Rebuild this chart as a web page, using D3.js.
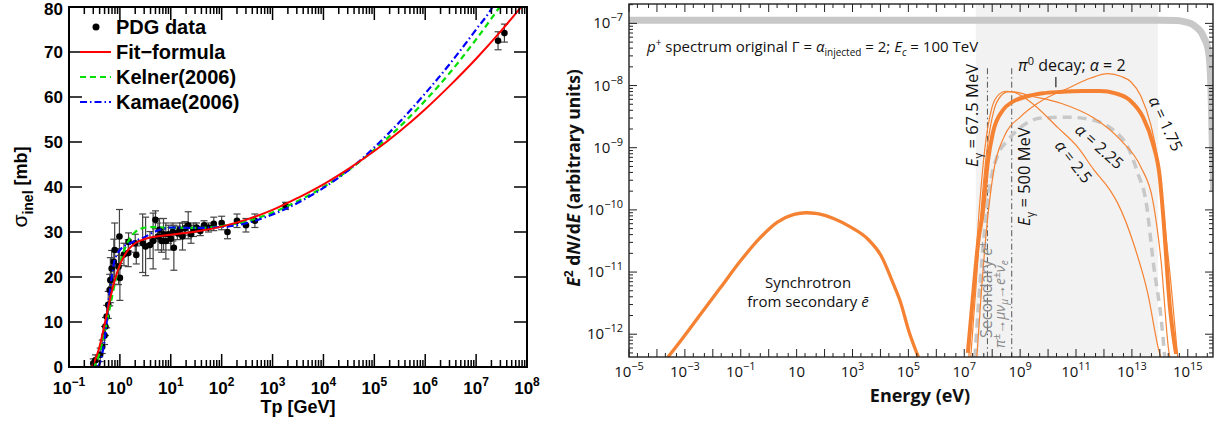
<!DOCTYPE html>
<html>
<head>
<meta charset="utf-8">
<script src="https://cdn.jsdelivr.net/npm/d3@7"></script>
<style>
  body { margin: 0; background: #fff; }
  svg { display: block; }
  .rootpad text { font-family: "Liberation Sans", Arial, sans-serif; font-weight: bold; fill: #000; }
  .sed text { font-family: "Open Sans", sans-serif; fill: #111; }
</style>
</head>
<body>
<svg id="chart" width="1226" height="427"></svg>
<script>
// ---------- left panel: inelastic pp cross section ----------
// PDG data: kinetic energy [GeV], sigma [mb], error [mb]
const pdgT = [0.30, 0.33, 0.41, 0.45, 0.50, 0.52, 0.55, 0.59, 0.63, 0.65, 0.69, 0.76, 0.79, 0.94, 0.98,
  1.0, 1.2, 1.46, 1.48, 2.0, 2.1, 2.8, 3.2, 3.9, 4.5, 5.0, 5.6, 6.0, 6.6, 7.2, 8.0, 9.0, 10, 11, 11.5,
  13.5, 15, 17, 19, 22, 25, 28, 32, 38, 45, 55, 70, 100, 130, 200, 300, 450, 1800, 2.7e7, 3.6e7];
const pdgSigma = [0.8, 1.5, 2.7, 4.5, 7.0, 9.0, 11.2, 13.8, 17.1, 19.3, 21.9, 23.4, 26.0, 22.3, 29.0,
  19.8, 25.0, 25.3, 27.8, 27.5, 24.9, 27.5, 26.8, 27.1, 28.0, 32.7, 29.0, 30.5, 28.0, 29.5, 28.0, 29.5,
  28.5, 30.0, 26.5, 29.8, 30.5, 29.0, 30.8, 31.5, 29.5, 30.5, 31.0, 30.2, 31.5, 31.0, 31.8, 32.0, 30.0,
  32.5, 31.5, 32.5, 35.8, 72.5, 74.2];
const pdgErr = [1.0, 1.2, 1.5, 1.5, 2.0, 2.0, 2.5, 3.0, 3.5, 5.0, 4.0, 5.0, 6.0, 4.0, 6.0,
  5.0, 2.5, 3.0, 2.0, 2.0, 2.0, 6.5, 6.5, 3.0, 6.2, 2.0, 3.0, 2.5, 2.5, 3.5, 4.0, 2.0, 2.5, 2.0, 5.0,
  1.5, 1.5, 3.0, 1.5, 3.0, 2.0, 1.5, 1.0, 1.0, 1.0, 1.0, 1.5, 1.5, 1.5, 1.5, 1.5, 1.5, 0.8, 2.0, 2.0];

const fitT = [0.28, 0.316, 0.398, 0.501, 0.631, 0.794, 1.0, 1.26, 1.58, 2.0, 2.51, 3.98, 10, 31.6,
  100, 316, 1000, 3160, 1e4, 3.16e4, 1e5, 3.16e5, 1e6, 3.16e6, 1e7, 3.16e7, 1e8];
const fitSigma = [0, 1.2, 4.5, 9.5, 14.8, 19.3, 22.7, 25.0, 26.5, 27.5, 28.1, 28.8, 29.4, 30.1,
  31.2, 32.8, 34.9, 37.6, 40.6, 44.1, 48.0, 52.4, 57.3, 62.7, 68.5, 74.8, 81.6];

const kelnerT = [0.28, 0.316, 0.398, 0.501, 0.631, 0.794, 1.0, 1.26, 1.58, 2.0, 2.51, 3.16, 5.01, 10,
  31.6, 100, 316, 1000, 3160, 1e4, 3.16e4, 1e5, 3.16e5, 1e6, 3.16e6, 1e7, 3.16e7];
const kelnerSigma = [0, 0.4, 3.1, 7.6, 13.1, 18.5, 22.9, 26.4, 28.6, 30.0, 30.7, 31.0, 31.1, 30.9,
  30.9, 31.3, 32.4, 34.3, 36.9, 40.0, 43.8, 48.3, 53.4, 59.2, 65.6, 72.8, 80.6];

const kamaeT = [0.1, 0.2, 0.3, 0.36, 0.42, 0.46, 0.51, 0.56, 0.6, 0.65, 0.71, 0.79, 0.9, 1.0, 1.26,
  1.58, 2.2, 3.0, 4.3, 7, 10, 31.6, 100, 316, 1000, 3160, 1e4, 3.16e4, 1e5, 3.16e5, 1e6, 3.16e6,
  1e7, 2.1e7, 3.16e7];
const kamaeSigma = [0, 0, 0, 0, 1.5, 3.5, 6.7, 11, 14.5, 17.8, 21, 23.8, 25.2, 26, 27, 27.5, 28.2,
  28.8, 29.8, 30.7, 31.0, 30.9, 31.1, 32.0, 33.9, 36.5, 39.8, 43.8, 48.8, 54.5, 60.8, 67.6, 75.0,
  80.0, 84];

const xExpL = [-1, 0, 1, 2, 3, 4, 5, 6, 7, 8];
const yTicksL = [0, 10, 20, 30, 40, 50, 60, 70, 80];
const legendL = ["PDG data", "Fit\u2212formula", "Kelner(2006)", "Kamae(2006)"];

// ---------- right panel: gamma-ray SED ----------
const protonE = [1e-5, 1e14, 4e14, 8e14, 1.26e15, 2e15, 2.9e15, 4e15, 5.1e15, 5.8e15, 6.3e15, 7.0e15, 7.6e15, 8.5e15];
const protonF = [1.12e-7, 1.12e-7, 1.11e-7, 1.06e-7, 1.0e-7, 8.7e-8, 7.4e-8, 5.6e-8, 4.2e-8, 3.0e-8, 1.9e-8, 5.0e-9, 1.0e-9, 2.0e-10];

const synE = [2.37e-4, 7.1e-4, 3.69e-3, 1.92e-2, 0.1, 0.519, 2.06, 8.09, 21.2, 55.6, 219, 865, 3440,
  1.03e4, 3.0e4, 5.37e4, 1.02e5, 2.34e5];
const synF = [4.17e-13, 7.85e-13, 2.12e-12, 5.69e-12, 1.53e-11, 3.64e-11, 6.35e-11, 8.45e-11, 9.0e-11,
  8.7e-11, 7.2e-11, 5.28e-11, 3.43e-11, 1.86e-11, 6.2e-12, 3.16e-12, 1.15e-12, 4.17e-13];

const pi2E = [1.34e7, 2.0e7, 3.2e7, 4.57e7, 7.1e7, 1.05e8, 2.4e8, 5.5e8, 1.6e9, 6.5e9, 2.6e10, 1.7e11,
  7.1e11, 2.6e12, 8.5e12, 2.5e13, 5.6e13, 1.0e14, 1.3e14, 2.3e14, 3.8e14];
const pi2F = [5.0e-13, 3.6e-12, 3.2e-11, 8.8e-11, 6.3e-10, 1.71e-9, 4.0e-9, 5.5e-9, 6.6e-9, 7.5e-9,
  7.9e-9, 8.2e-9, 8.2e-9, 7.5e-9, 5.8e-9, 3.1e-9, 1.18e-9, 3.3e-10, 8.8e-11, 2.7e-12, 4.8e-13];

const pi175E = [2.82e7, 3.89e7, 6.46e7, 1.15e8, 2.63e8, 1.07e9, 4.27e9, 6.46e10, 3.39e11, 1.38e12,
  3.98e12, 9.12e12, 2.09e13, 4.79e13, 8.51e13, 1.38e14, 2.45e14, 4.37e14];
const pi175F = [4.2e-13, 3.5e-12, 5.6e-11, 4.4e-10, 1.48e-9, 3.2e-9, 5.2e-9, 9.5e-9, 1.32e-8, 1.55e-8,
  1.41e-8, 1.15e-8, 6.8e-9, 2.3e-9, 6.3e-10, 8.7e-11, 7.2e-12, 4.2e-13];

const pi225E = [1.7e7, 2.57e7, 3.89e7, 6.46e7, 1.15e8, 2.04e8, 3.63e8, 5.89e8, 2.4e9, 2.88e10, 4.37e11,
  3.98e12, 2.09e13, 5.62e13, 1.1e14, 2.09e14, 2.29e14];
const pi225F = [4.2e-13, 5.0e-12, 8.1e-11, 9.1e-10, 4.0e-9, 6.8e-9, 7.9e-9, 7.9e-9, 6.8e-9, 5.2e-9, 3.0e-9,
  1.32e-9, 4.9e-10, 1.41e-10, 1.55e-11, 5.4e-13, 4.2e-13];

const pi25E = [1.45e7, 2.19e7, 3.31e7, 5.37e7, 9.77e7, 1.74e8, 3.09e8, 5.5e8, 2.4e9, 2.24e10, 1.15e11,
  4.37e11, 1.74e12, 3.16e12, 1.17e13, 3.72e13, 9.33e13, 1.1e14];
const pi25F = [4.2e-13, 5.0e-12, 8.1e-11, 9.1e-10, 4.4e-9, 7.2e-9, 8.1e-9, 7.9e-9, 5.4e-9, 2.1e-9, 1.02e-9,
  4.4e-10, 2.0e-10, 1.26e-10, 2.8e-11, 4.5e-12, 5.4e-13, 4.2e-13];

const secE = [2.4e7, 3.31e7, 5.37e7, 8.91e7, 1.58e8, 3.63e8, 1.07e9, 5.5e9, 5.13e10, 4.37e11, 2.24e12,
  7.24e12, 1.62e13, 3.16e13, 6.17e13, 1.1e14, 1.51e14];
const secF = [4.2e-13, 3.5e-12, 4.7e-11, 3.0e-10, 7.6e-10, 1.32e-9, 2.14e-9, 3.0e-9, 3.1e-9, 2.75e-9,
  1.9e-9, 1.02e-9, 3.9e-10, 1.41e-10, 1.17e-11, 1.86e-12, 4.2e-13];

const shadeBand = [2.6e7, 8.5e13];          // light grey energy band
const thresholdE = [6.75e7, 5e8];           // E_gamma = 67.5 MeV, 500 MeV
const thresholdTop = 1.9e-8;
const peakMark = [1.9e10, 1.37e-8, 9.4e-9]; // little tick under the pi0 label
const xExpR = d3.range(-5, 16);
const xLabelExpR = [-5, -3, -1, 1, 3, 5, 7, 9, 11, 13, 15];
const yExpR = [-12, -11, -10, -9, -8, -7];

const svg = d3.select("#chart");
const defs = svg.append("defs");
const zip = (a, b) => a.map((v, i) => [v, b[i]]);

function addPow(text, e, supSize, rise, showOne) {
  text.append("tspan").text("10");
  if (e !== 1 || showOne) {
    text.append("tspan").attr("dy", -rise).attr("font-size", supSize)
      .text(e < 0 ? "\u2212" + (-e) : String(e));
  }
}

// ================= LEFT PANEL =================
const fL = {left: 69, right: 527, top: 7, bottom: 367};
const xL = d3.scaleLog().domain([1e-1, 1e8]).range([fL.left, fL.right]);
const yL = d3.scaleLinear().domain([0, 80]).range([fL.bottom, fL.top]);

defs.append("clipPath").attr("id", "clipL").append("rect")
  .attr("x", fL.left).attr("y", fL.top)
  .attr("width", fL.right - fL.left).attr("height", fL.bottom - fL.top);

const gL = svg.append("g").attr("class", "rootpad");
const plotL = gL.append("g").attr("clip-path", "url(#clipL)");
const lineL = d3.line().x(d => xL(d[0])).y(d => yL(d[1])).curve(d3.curveMonotoneX);

// error bars + markers
const pdg = pdgT.map((t, i) => ({t: t, s: pdgSigma[i], e: pdgErr[i]}));
const bars = plotL.append("g").attr("stroke", "#444").attr("stroke-width", 1.2);
bars.selectAll(".eb").data(pdg).enter().append("line")
  .attr("x1", d => xL(d.t)).attr("x2", d => xL(d.t))
  .attr("y1", d => yL(d.s - d.e)).attr("y2", d => yL(d.s + d.e));
bars.selectAll(".cap").data(pdg.flatMap(d => [[d.t, d.s - d.e], [d.t, d.s + d.e]])).enter().append("line")
  .attr("x1", d => xL(d[0]) - 3.5).attr("x2", d => xL(d[0]) + 3.5)
  .attr("y1", d => yL(d[1])).attr("y2", d => yL(d[1]));
plotL.append("g").selectAll("circle").data(pdg).enter().append("circle")
  .attr("cx", d => xL(d.t)).attr("cy", d => yL(d.s)).attr("r", 3.3).attr("fill", "#000");

plotL.append("path").datum(zip(kelnerT, kelnerSigma)).attr("d", lineL)
  .attr("fill", "none").attr("stroke", "#00e000").attr("stroke-width", 2.2).attr("stroke-dasharray", "6,4");
plotL.append("path").datum(zip(kamaeT, kamaeSigma)).attr("d", lineL)
  .attr("fill", "none").attr("stroke", "#0000ff").attr("stroke-width", 2.2).attr("stroke-dasharray", "7,3,1.5,3");
plotL.append("path").datum(zip(fitT, fitSigma)).attr("d", lineL)
  .attr("fill", "none").attr("stroke", "#ff0000").attr("stroke-width", 2);

// ticks
const majL = xExpL.map(e => Math.pow(10, e));
const minL = [];
xExpL.slice(0, -1).forEach(e => { for (let k = 2; k <= 9; k++) minL.push(k * Math.pow(10, e)); });
const tk = gL.append("g").attr("stroke", "#000").attr("stroke-width", 1.5);
[[majL, 13], [minL, 7]].forEach(([vals, len]) => {
  tk.selectAll(null).data(vals).enter().append("line")
    .attr("x1", d => xL(d)).attr("x2", d => xL(d)).attr("y1", fL.bottom).attr("y2", fL.bottom - len);
  tk.selectAll(null).data(vals).enter().append("line")
    .attr("x1", d => xL(d)).attr("x2", d => xL(d)).attr("y1", fL.top).attr("y2", fL.top + len);
});
tk.selectAll(null).data(yTicksL).enter().append("line")
  .attr("x1", fL.left).attr("x2", fL.left + 13).attr("y1", d => yL(d)).attr("y2", d => yL(d));
tk.selectAll(null).data(yTicksL).enter().append("line")
  .attr("x1", fL.right).attr("x2", fL.right - 13).attr("y1", d => yL(d)).attr("y2", d => yL(d));
gL.append("rect").attr("x", fL.left).attr("y", fL.top)
  .attr("width", fL.right - fL.left).attr("height", fL.bottom - fL.top)
  .attr("fill", "none").attr("stroke", "#000").attr("stroke-width", 2);

// tick labels (the top one is nudged down so it stays on the canvas)
gL.selectAll(".ylab").data(yTicksL).enter().append("text")
  .attr("x", fL.left - 6).attr("y", d => Math.max(yL(d) + 6, 15)).attr("text-anchor", "end")
  .attr("font-size", 17).text(d => d);
gL.selectAll(".xlab").data(xExpL).enter().append("text")
  .attr("x", d => xL(Math.pow(10, d))).attr("y", 394).attr("text-anchor", "middle")
  .attr("font-size", 17)
  .each(function (d) { addPow(d3.select(this), d, 12, 8, true); });

gL.append("text").attr("x", (fL.left + fL.right) / 2).attr("y", 413).attr("text-anchor", "middle")
  .attr("font-size", 18).text("Tp [GeV]");
const yt = gL.append("text").attr("transform", "translate(27,187) rotate(-90)")
  .attr("text-anchor", "middle").attr("font-size", 18);
yt.append("tspan").attr("font-weight", "normal").attr("font-size", 21).text("\u03c3");
yt.append("tspan").attr("dy", 6).attr("font-size", 14).text("inel");
yt.append("tspan").attr("dy", -6).text(" [mb]");

// legend
const lg = gL.append("g");
const rowY = [27, 52, 77, 102];
lg.append("circle").attr("cx", 96).attr("cy", rowY[0]).attr("r", 3.5).attr("fill", "#000");
lg.append("line").attr("x1", 80).attr("x2", 111).attr("y1", rowY[1]).attr("y2", rowY[1])
  .attr("stroke", "#ff0000").attr("stroke-width", 2);
lg.append("line").attr("x1", 80).attr("x2", 111).attr("y1", rowY[2]).attr("y2", rowY[2])
  .attr("stroke", "#00e000").attr("stroke-width", 2.2).attr("stroke-dasharray", "6,4");
lg.append("line").attr("x1", 80).attr("x2", 111).attr("y1", rowY[3]).attr("y2", rowY[3])
  .attr("stroke", "#0000ff").attr("stroke-width", 2.2).attr("stroke-dasharray", "7,3,1.5,3");
lg.selectAll(".lt").data(legendL).enter().append("text")
  .attr("x", 116).attr("y", (d, i) => rowY[i] + 7).attr("font-size", 20).text(d => d);

// ================= RIGHT PANEL =================
const fR = {left: 629, right: 1213, top: 4, bottom: 357};
const xR = d3.scaleLog().domain([1e-5, 8e15]).range([fR.left, fR.right]);
const yR = d3.scaleLog().domain([4.3e-13, 2.05e-7]).range([fR.bottom, fR.top]);
const orange = "#f58232";

defs.append("clipPath").attr("id", "clipR").append("rect")
  .attr("x", fR.left).attr("y", fR.top)
  .attr("width", fR.right - fR.left).attr("height", fR.bottom - fR.top);

const gR = svg.append("g").attr("class", "sed");
const plotR = gR.append("g").attr("clip-path", "url(#clipR)");
const lineR = d3.line().x(d => xR(d[0])).y(d => yR(d[1])).curve(d3.curveMonotoneX);

plotR.append("rect").attr("x", xR(shadeBand[0])).attr("y", fR.top)
  .attr("width", xR(shadeBand[1]) - xR(shadeBand[0])).attr("height", fR.bottom - fR.top)
  .attr("fill", "#f2f2f2");

plotR.append("path").datum(zip(protonE, protonF)).attr("d", lineR)
  .attr("fill", "none").attr("stroke", "#c8c8c8").attr("stroke-width", 7);

plotR.selectAll(".thr").data(thresholdE).enter().append("line")
  .attr("x1", d => xR(d)).attr("x2", d => xR(d))
  .attr("y1", yR(thresholdTop)).attr("y2", fR.bottom)
  .attr("stroke", "#555").attr("stroke-width", 1).attr("stroke-dasharray", "6,3,1.5,3");

plotR.append("path").datum(zip(secE, secF)).attr("d", lineR)
  .attr("fill", "none").attr("stroke", "#c8c8c8").attr("stroke-width", 3.5).attr("stroke-dasharray", "9,6");
[[pi175E, pi175F], [pi225E, pi225F], [pi25E, pi25F]].forEach(([e, f]) => {
  plotR.append("path").datum(zip(e, f)).attr("d", lineR)
    .attr("fill", "none").attr("stroke", orange).attr("stroke-width", 1.2);
});
plotR.append("path").datum(zip(pi2E, pi2F)).attr("d", lineR)
  .attr("fill", "none").attr("stroke", orange).attr("stroke-width", 4);
plotR.append("path").datum(zip(synE, synF)).attr("d", lineR)
  .attr("fill", "none").attr("stroke", orange).attr("stroke-width", 3.3);
plotR.append("line").attr("x1", xR(peakMark[0])).attr("x2", xR(peakMark[0]))
  .attr("y1", yR(peakMark[1])).attr("y2", yR(peakMark[2])).attr("stroke", "#222").attr("stroke-width", 1.2);

// ticks
const majR = xExpR.map(e => Math.pow(10, e));
const minR = [];
xExpR.forEach(e => { minR.push(2 * Math.pow(10, e)); minR.push(5 * Math.pow(10, e)); });
const tkR = gR.append("g").attr("stroke", "#222").attr("stroke-width", 1);
[[majR, 8], [minR.filter(v => v < 8e15), 4]].forEach(([vals, len]) => {
  tkR.selectAll(null).data(vals).enter().append("line")
    .attr("x1", d => xR(d)).attr("x2", d => xR(d)).attr("y1", fR.bottom).attr("y2", fR.bottom - len);
  tkR.selectAll(null).data(vals).enter().append("line")
    .attr("x1", d => xR(d)).attr("x2", d => xR(d)).attr("y1", fR.top).attr("y2", fR.top + len);
});
const majY = yExpR.map(e => Math.pow(10, e));
const minY = [];
[-13, -12, -11, -10, -9, -8, -7].forEach(e => { for (let k = 2; k <= 9; k++) minY.push(k * Math.pow(10, e)); });
const inY = minY.filter(v => v > 4.3e-13 && v < 2.05e-7);
[[majY, 8], [inY, 4]].forEach(([vals, len]) => {
  tkR.selectAll(null).data(vals).enter().append("line")
    .attr("x1", fR.left).attr("x2", fR.left + len).attr("y1", d => yR(d)).attr("y2", d => yR(d));
  tkR.selectAll(null).data(vals).enter().append("line")
    .attr("x1", fR.right).attr("x2", fR.right - len).attr("y1", d => yR(d)).attr("y2", d => yR(d));
});
gR.append("rect").attr("x", fR.left).attr("y", fR.top)
  .attr("width", fR.right - fR.left).attr("height", fR.bottom - fR.top)
  .attr("fill", "none").attr("stroke", "#222").attr("stroke-width", 1.4);

gR.selectAll(".xl").data(xLabelExpR).enter().append("text")
  .attr("x", d => xR(Math.pow(10, d))).attr("y", 377).attr("text-anchor", "middle").attr("font-size", 15)
  .each(function (d) { addPow(d3.select(this), d, 11, 7, false); });
gR.selectAll(".yl").data(yExpR).enter().append("text")
  .attr("x", 623).attr("y", d => yR(Math.pow(10, d)) + 5).attr("text-anchor", "end").attr("font-size", 15)
  .each(function (d) { addPow(d3.select(this), d, 11, 7, true); });

gR.append("text").attr("x", 920).attr("y", 402).attr("text-anchor", "middle")
  .attr("font-size", 18).attr("font-weight", "bold").text("Energy (eV)");
const ytR = gR.append("text").attr("transform", "translate(580,178) rotate(-90)")
  .attr("text-anchor", "middle").attr("font-size", 17.5).attr("font-weight", "bold");
ytR.append("tspan").attr("font-style", "italic").text("E");
ytR.append("tspan").attr("dy", -7).attr("font-size", 12).text("2");
ytR.append("tspan").attr("dy", 7).text(" d");
ytR.append("tspan").attr("font-style", "italic").text("N");
ytR.append("tspan").text("/d");
ytR.append("tspan").attr("font-style", "italic").text("E");
ytR.append("tspan").text(" (arbitrary units)");

// annotations
function rich(g, parts) {
  parts.forEach(p => {
    const ts = g.append("tspan").text(p.t);
    if (p.it) ts.attr("font-style", "italic");
    if (p.dy) ts.attr("dy", p.dy);
    if (p.fs) ts.attr("font-size", p.fs);
  });
  return g;
}
rich(gR.append("text").attr("x", 647).attr("y", 52).attr("font-size", 15), [
  {t: "p", it: true}, {t: "+", dy: -6, fs: 10}, {t: " spectrum original \u0393 = ", dy: 6},
  {t: "\u03b1", it: true}, {t: "injected", dy: 4, fs: 10}, {t: " = 2; ", dy: -4},
  {t: "E", it: true}, {t: "c", it: true, dy: 4, fs: 10}, {t: " = 100 TeV", dy: -4}]);
rich(gR.append("text").attr("x", 1018).attr("y", 71).attr("font-size", 16), [
  {t: "\u03c0", it: true}, {t: "0", dy: -6, fs: 11}, {t: " decay; ", dy: 6},
  {t: "\u03b1", it: true}, {t: " = 2"}]);
gR.append("text").attr("x", 808).attr("y", 288).attr("text-anchor", "middle").attr("font-size", 15)
  .text("Synchrotron");
rich(gR.append("text").attr("x", 808).attr("y", 307).attr("text-anchor", "middle").attr("font-size", 15), [
  {t: "from secondary "}, {t: "\u0113", it: true}]);
rich(gR.append("text").attr("transform", "translate(978,167) rotate(-90)").attr("font-size", 16.5), [
  {t: "E", it: true}, {t: "\u03b3", dy: 4, fs: 11}, {t: " = 67.5 MeV", dy: -4}]);
rich(gR.append("text").attr("transform", "translate(1030,226) rotate(-90)").attr("font-size", 16.5), [
  {t: "E", it: true}, {t: "\u03b3", dy: 4, fs: 11}, {t: " = 500 MeV", dy: -4}]);
rich(gR.append("text").attr("transform", "translate(992,338) rotate(-90)").attr("font-size", 16)
  .style("fill", "#888"), [{t: "Secondary "}, {t: "e", it: true}, {t: "\u00b1", dy: -6, fs: 11}]);
rich(gR.append("text").attr("transform", "translate(1005,348) rotate(-90)").attr("font-size", 14)
  .style("fill", "#888"), [
  {t: "\u03c0", it: true}, {t: "\u00b1", dy: -5, fs: 10}, {t: "\u2192", dy: 5}, {t: "\u03bc\u03bd", it: true},
  {t: "\u03bc", it: true, dy: 3, fs: 10}, {t: "\u2192", dy: -3}, {t: "e", it: true}, {t: "\u00b1", dy: -5, fs: 10},
  {t: "\u03bd", it: true, dy: 5}, {t: "e", it: true, dy: 3, fs: 10}]);

[["2.25", 1099, 147, 42], ["2.5", 1073, 162, 52], ["1.75", 1165, 124, 65]].forEach(([v, x, y, a]) => {
  rich(gR.append("text").attr("transform", `translate(${x},${y}) rotate(${a})`)
    .attr("text-anchor", "middle").attr("dy", 5).attr("font-size", 16), [
    {t: "\u03b1", it: true}, {t: " = " + v}]);
});
</script>
</body>
</html>
